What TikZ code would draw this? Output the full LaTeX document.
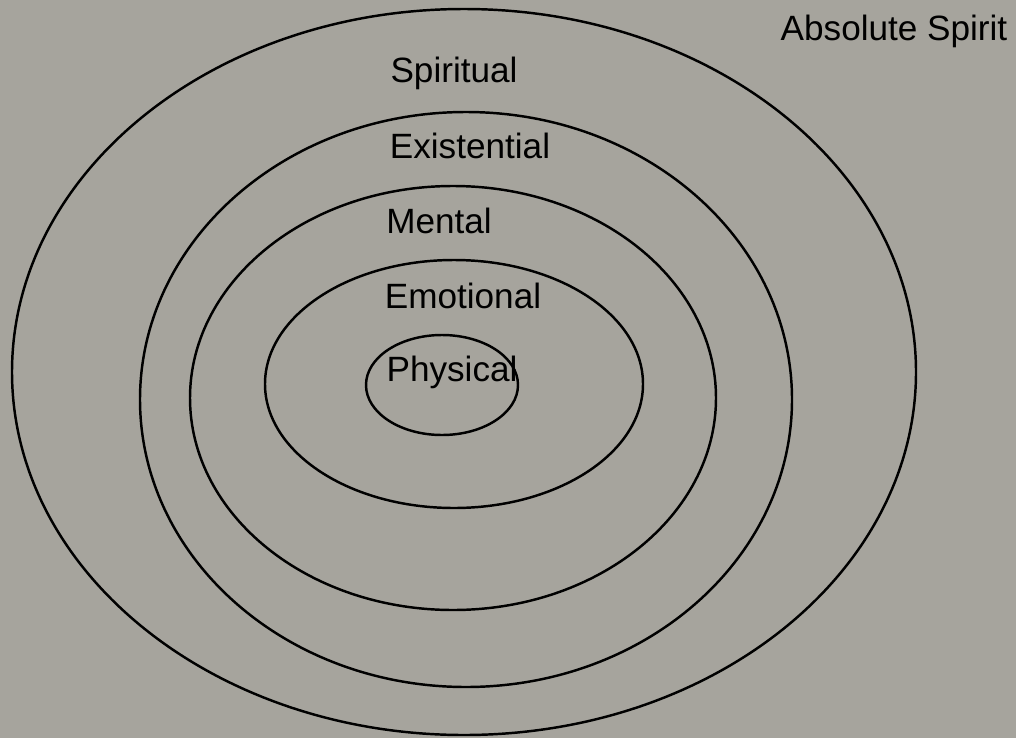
\documentclass[tikz,border=0pt]{standalone}
\usepackage{fontspec}
\setmainfont{Liberation Sans}
\usepackage{tikz}
\usetikzlibrary{positioning}
\definecolor{paper}{RGB}{166,164,157}
\tikzset{ring/.style={line width=0.7pt, black}, lbl/.style={font=\fontsize{10}{12}\selectfont, inner sep=1pt}}

\begin{document}
\begin{tikzpicture}
    \useasboundingbox (0,0) rectangle (10.16,7.38);
    \fill[paper] (0,0) rectangle (10.16,7.38);
    \draw[ring] (4.64,3.66) ellipse (4.52cm and 3.63cm);
    \draw[ring] (4.66,3.385) ellipse (3.26cm and 2.875cm);
    \draw[ring] (4.53,3.40) ellipse (2.63cm and 2.12cm);
    \draw[ring] (4.54,3.54) ellipse (1.89cm and 1.24cm);
    \draw[ring] (4.42,3.53) ellipse (0.76cm and 0.50cm);
    \node[lbl] (spir) at (4.54, 6.65) {Spiritual};
    \node[lbl] (exis) at (4.70, 5.92) {Existential};
    \node[lbl] (ment) at (4.39, 5.17) {Mental};
    \node[lbl] (emot) at (4.63, 4.42) {Emotional};
    \node[lbl] (phys) at (4.52, 3.66) {Physical};
    \node[lbl] (abs) at (8.94, 7.07) {Absolute Spirit};
\end{tikzpicture}
\end{document}
